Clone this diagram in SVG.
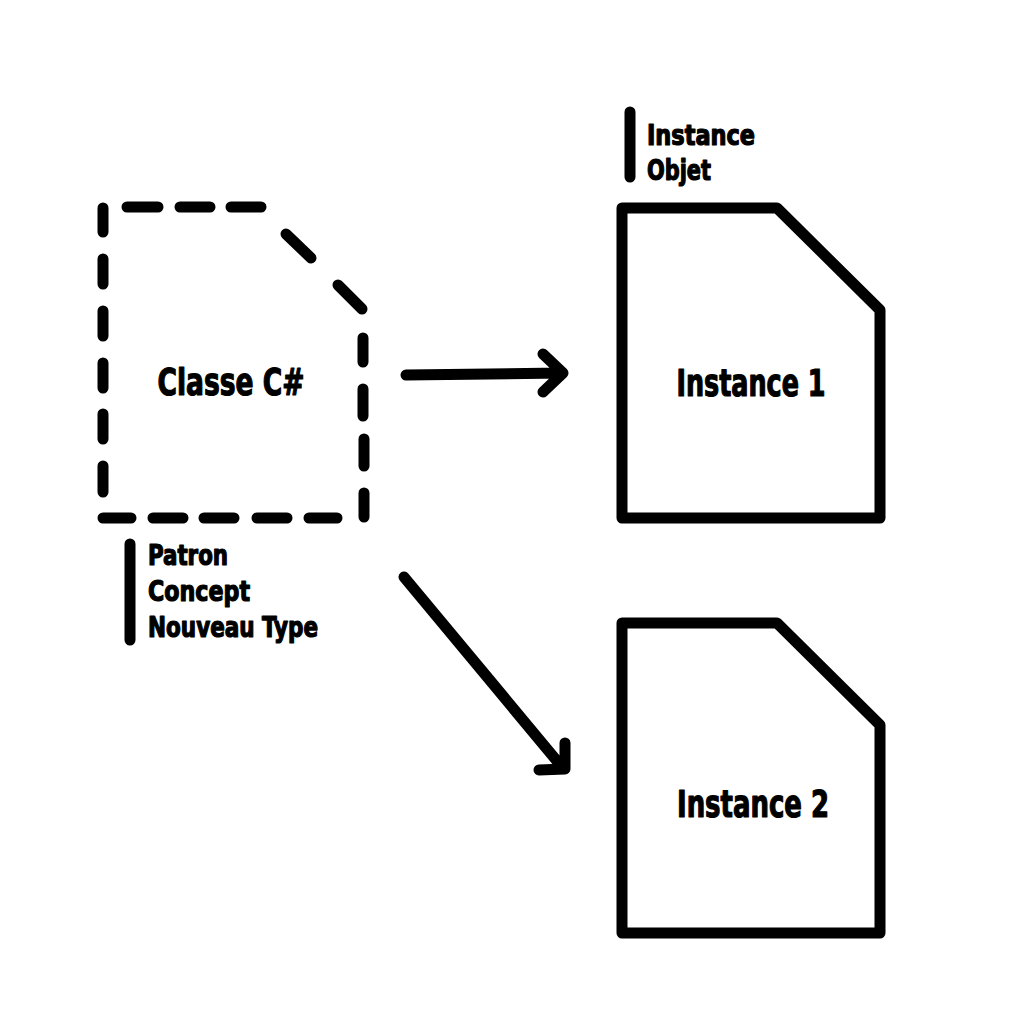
<svg xmlns="http://www.w3.org/2000/svg" width="1024" height="1024" viewBox="0 0 1024 1024">
<style>
.s{fill:none;stroke:#000;stroke-width:11;stroke-linecap:round;stroke-linejoin:round}
.t{font-family:"Liberation Sans Narrow","DejaVu Sans Condensed","Liberation Sans",sans-serif;font-weight:bold;fill:#000;stroke:#000;stroke-width:1.2;stroke-linejoin:round}
.big{font-size:38px;text-anchor:middle}
.lab{font-size:28px}
</style>
<rect width="1024" height="1024" fill="#fff"/>
<g id="classe">
<path class="s" d="M127,207H158M180,207H210M231,207H261M286,234L311,258M338,285L362,309M363,338V362M363,389V416M364,439V466M364,493V517M103,208V232M103,259V284M103,311V336M103,363V388M103,414V439M103,466V492M103,518H131M153,518H183M204,518H234M257,518H287M309,518H337"/>
<text class="t big" x="231" y="395" textLength="147" lengthAdjust="spacingAndGlyphs">Classe C#</text>
</g>
<g id="note-classe">
<path class="s" d="M130,544V640"/>
<text class="t lab" x="148" y="565" textLength="80" lengthAdjust="spacingAndGlyphs">Patron</text>
<text class="t lab" x="148" y="601" textLength="102" lengthAdjust="spacingAndGlyphs">Concept</text>
<text class="t lab" x="148" y="637" textLength="170" lengthAdjust="spacingAndGlyphs">Nouveau Type</text>
</g>
<g id="instance1">
<path class="s" d="M622,208H777L880,310V518H622Z"/>
<text class="t big" x="751" y="396" textLength="149" lengthAdjust="spacingAndGlyphs">Instance 1</text>
</g>
<g id="note-instance">
<path class="s" d="M630,112V177"/>
<text class="t lab" x="647" y="145" textLength="108" lengthAdjust="spacingAndGlyphs">Instance</text>
<text class="t lab" x="647" y="180" textLength="64" lengthAdjust="spacingAndGlyphs">Objet</text>
</g>
<g id="instance2">
<path class="s" d="M622,623H777L880,725V933H622Z"/>
<text class="t big" x="753" y="817" textLength="152" lengthAdjust="spacingAndGlyphs">Instance 2</text>
</g>
<g id="connectors">
<path class="s" d="M406,375L561,373M543,354L563,373L543,392"/>
<path class="s" d="M404,577L562,767M565,743L565,769L539,770"/>
</g>
</svg>
